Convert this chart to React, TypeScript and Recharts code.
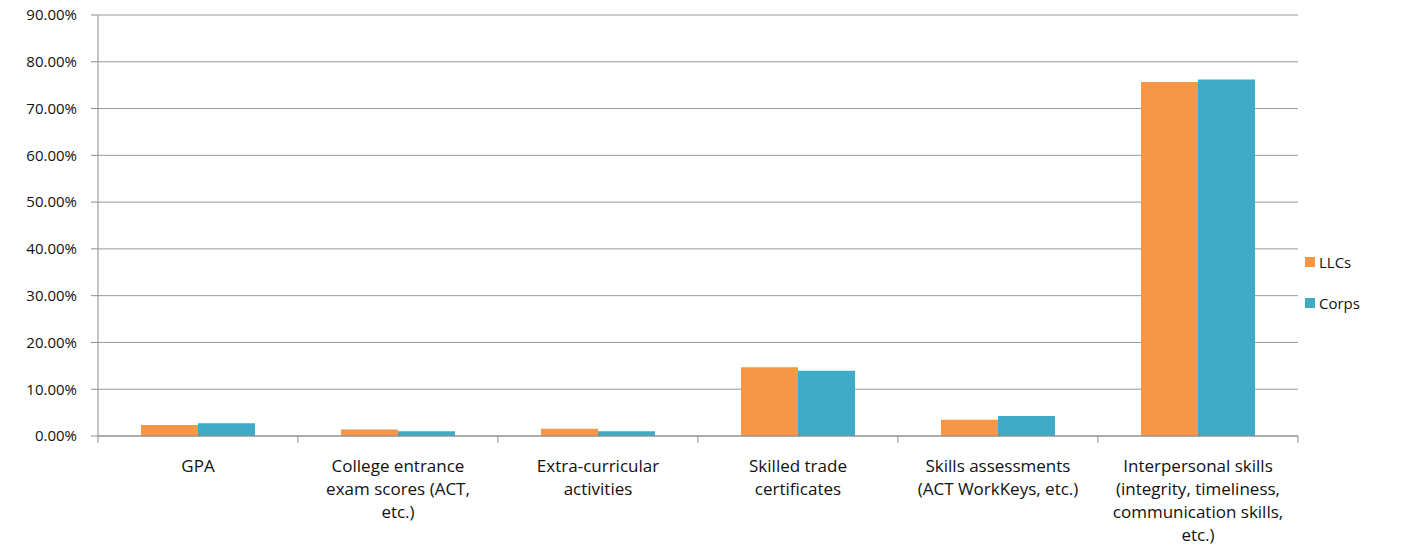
import { BarChart, Bar, XAxis, YAxis, CartesianGrid } from 'recharts';

const categories = [
  'GPA',
  'College entrance exam scores (ACT, etc.)',
  'Extra-curricular activities',
  'Skilled trade certificates',
  'Skills assessments (ACT WorkKeys, etc.)',
  'Interpersonal skills (integrity, timeliness, communication skills, etc.)',
];

const tickLines: string[][] = [
  ['GPA'],
  ['College entrance', 'exam scores (ACT,', 'etc.)'],
  ['Extra-curricular', 'activities'],
  ['Skilled trade', 'certificates'],
  ['Skills assessments', '(ACT WorkKeys, etc.)'],
  ['Interpersonal skills', '(integrity, timeliness,', 'communication skills,', 'etc.)'],
];

const llcs = [2.35, 1.4, 1.55, 14.7, 3.5, 75.7];
const corps = [2.75, 1.0, 1.0, 13.95, 4.3, 76.2];

const yTicks = [0, 10, 20, 30, 40, 50, 60, 70, 80, 90];

const seriesInfo = [
  { key: 'llcs', label: 'LLCs', color: '#F79646' },
  { key: 'corps', label: 'Corps', color: '#40ABC6' },
];

const chartData = categories.map((name, i) => ({
  name,
  llcs: llcs[i],
  corps: corps[i],
}));

const FONT = '"Open Sans", sans-serif';
const AXIS = '#8c8c8c';
const PLOT_W = 1200;

function CategoryTick(props: any) {
  const { x, y, payload, index } = props;
  const lines = tickLines[index] ?? [payload?.value];
  const half = PLOT_W / categories.length / 2;
  return (
    <g>
      <line x1={x - half} y1={y - 8} x2={x - half} y2={y - 1} stroke={AXIS} />
      {index === categories.length - 1 && (
        <line x1={x + half} y1={y - 8} x2={x + half} y2={y - 1} stroke={AXIS} />
      )}
      <text x={x} y={y + 28} textAnchor="middle" fill="#111" fontSize={17} fontFamily={FONT}>
        {lines.map((line, i) => (
          <tspan key={i} x={x} dy={i === 0 ? 0 : 23}>
            {line}
          </tspan>
        ))}
      </text>
    </g>
  );
}

export default function App() {
  return (
    <div style={{ position: 'relative', width: 1418, height: 558, margin: -8 }}>
      <BarChart
        width={1418}
        height={558}
        data={chartData}
        margin={{ top: 15, right: 120, bottom: 0, left: 0 }}
        barCategoryGap="21.5%"
        barGap={0}
      >
        <CartesianGrid vertical={false} stroke="#999" />
        <XAxis
          dataKey="name"
          interval={0}
          height={122}
          stroke={AXIS}
          tickLine={false}
          tick={<CategoryTick />}
        />
        <YAxis
          domain={[0, 90]}
          ticks={yTicks}
          width={98}
          stroke={AXIS}
          tickSize={7}
          tickFormatter={(v: number) => `${v.toFixed(2)}%`}
          tick={{ fill: '#111', fontSize: 15, fontFamily: FONT, dx: -12 }}
        />
        {seriesInfo.map((s) => (
          <Bar key={s.key} dataKey={s.key} name={s.label} fill={s.color} isAnimationActive={false} />
        ))}
      </BarChart>
      <div
        style={{
          position: 'absolute',
          left: 1305,
          top: 252,
          fontFamily: FONT,
          fontSize: 15,
          color: '#111',
        }}
      >
        {seriesInfo.map((s) => (
          <div key={s.key} style={{ display: 'flex', alignItems: 'center', height: 20, marginBottom: 21 }}>
            <div style={{ width: 10, height: 10, backgroundColor: s.color, marginRight: 4 }} />
            <span>{s.label}</span>
          </div>
        ))}
      </div>
    </div>
  );
}
